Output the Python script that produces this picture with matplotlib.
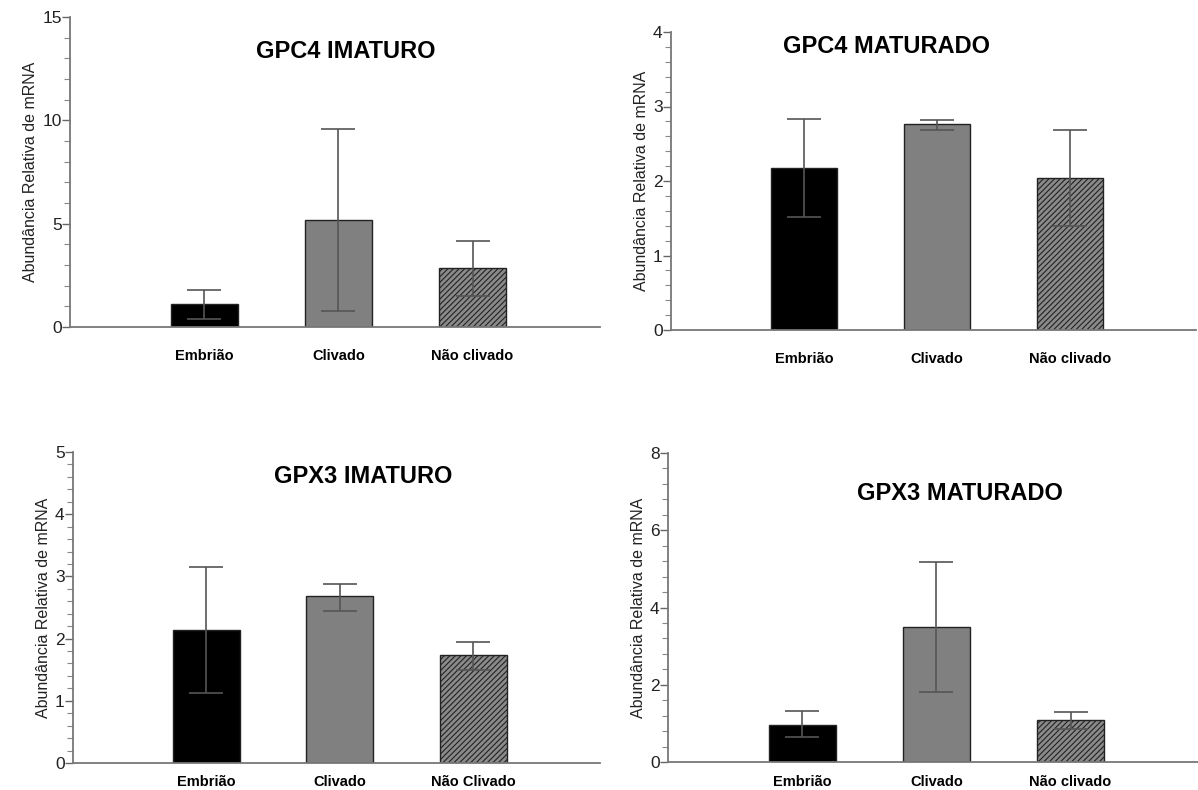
import matplotlib
matplotlib.use("Agg")
import matplotlib.pyplot as plt
from matplotlib.ticker import MultipleLocator

plt.rcParams['font.family'] = ['Liberation Sans', 'DejaVu Sans']
plt.rcParams['hatch.color'] = '#333333'
plt.rcParams['hatch.linewidth'] = 0.8

# data
titles = ["GPC4 IMATURO", "GPC4 MATURADO", "GPX3 IMATURO", "GPX3 MATURADO"]
labels_gpc4_imat = ["Embrião", "Clivado", "Não clivado"]
labels_gpc4_mat = ["Embrião", "Clivado", "Não clivado"]
labels_gpx3_imat = ["Embrião", "Clivado", "Não Clivado"]
labels_gpx3_mat = ["Embrião", "Clivado", "Não clivado"]

gpc4_imat = [1.10, 5.19, 2.85]
gpc4_imat_hi = [1.81, 9.60, 4.16]
gpc4_imat_lo = [0.40, 0.77, 1.48]

gpc4_mat = [2.18, 2.76, 2.04]
gpc4_mat_hi = [2.83, 2.82, 2.69]
gpc4_mat_lo = [1.52, 2.69, 1.39]

gpx3_imat = [2.14, 2.69, 1.73]
gpx3_imat_hi = [3.15, 2.88, 1.95]
gpx3_imat_lo = [1.13, 2.45, 1.49]

gpx3_mat = [0.97, 3.49, 1.08]
gpx3_mat_hi = [1.33, 5.18, 1.30]
gpx3_mat_lo = [0.65, 1.82, 0.86]

ymax = [15, 4, 5, 8]
ymajor = [5, 1, 1, 2]
yminor = [1, 0.2, 0.2, 0.4]

panels = [
    (labels_gpc4_imat, gpc4_imat, gpc4_imat_hi, gpc4_imat_lo),
    (labels_gpc4_mat, gpc4_mat, gpc4_mat_hi, gpc4_mat_lo),
    (labels_gpx3_imat, gpx3_imat, gpx3_imat_hi, gpx3_imat_lo),
    (labels_gpx3_mat, gpx3_mat, gpx3_mat_hi, gpx3_mat_lo),
]

W, H = 1198, 790
# axes boxes in pixels: left, top, right, bottom
boxes = [(70, 17, 600, 327), (671, 32, 1196, 330),
         (73, 452, 600, 763), (668, 453, 1198, 762)]
title_pos = [(0.52, 0.89), (0.41, 0.95), (0.55, 0.92), (0.55, 0.87)]
xpad = [16, 16, 9, 9]

faces = ['black', '#808080', '#8a8a8a']
hatches = [None, None, '//////']

fig = plt.figure(figsize=(W / 100, H / 100), dpi=100)

for i, (labels, vals, hi, lo) in enumerate(panels):
    l, t, r, b = boxes[i]
    ax = fig.add_axes([l / W, 1 - b / H, (r - l) / W, (b - t) / H])
    x = [1, 2, 3]
    for j in range(3):
        ax.bar(x[j], vals[j], width=0.5, color=faces[j], edgecolor='#222222',
               linewidth=1.0, hatch=hatches[j], zorder=2)
    yerr = [[v - lo_ for v, lo_ in zip(vals, lo)], [h - v for v, h in zip(vals, hi)]]
    ax.errorbar(x, vals, yerr=yerr, fmt='none', ecolor='#555555',
                elinewidth=1.2, capsize=12, capthick=1.2, zorder=3)

    ax.set_xlim(0, 3.95)
    ax.set_ylim(0, ymax[i])
    ax.yaxis.set_major_locator(MultipleLocator(ymajor[i]))
    ax.yaxis.set_minor_locator(MultipleLocator(yminor[i]))
    ax.set_xticks(x)
    ax.set_xticklabels(labels, fontsize=10.5, fontweight='bold')
    ax.tick_params(axis='x', length=0, pad=xpad[i])
    ax.tick_params(axis='y', which='major', length=6, width=1,
                   color='#666666', labelsize=12.5, labelcolor='#222222', pad=0)
    ax.tick_params(axis='y', which='minor', length=4, width=0.8, color='#888888')
    for s in ['top', 'right']:
        ax.spines[s].set_visible(False)
    for s in ['left', 'bottom']:
        ax.spines[s].set_color('#777777')
        ax.spines[s].set_linewidth(1.3)
    ax.set_ylabel("Abundância Relativa de mRNA", fontsize=11.5, color='#222222',
                  labelpad=3)
    ax.text(title_pos[i][0], title_pos[i][1], titles[i], transform=ax.transAxes,
            ha='center', va='center', fontsize=17, fontweight='bold')

fig.savefig("out.png", dpi=100)
